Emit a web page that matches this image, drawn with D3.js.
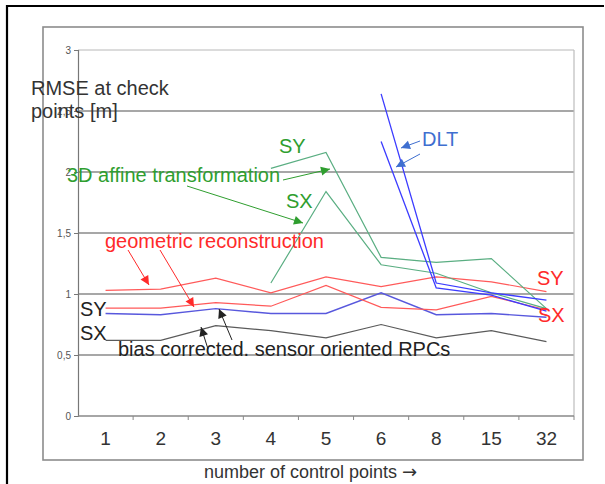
<!DOCTYPE html>
<html><head><meta charset="utf-8">
<script src="https://cdn.jsdelivr.net/npm/d3@7"></script>
<style>
html,body{margin:0;padding:0;background:#fff;}
svg{display:block;font-family:"Liberation Sans",Arial,sans-serif;}
</style></head>
<body><svg id="c" width="605" height="484"></svg>
<script>
const categories = ["1","2","3","4","5","6","8","15","32"];
const yTicks = [0,0.5,1,1.5,2,2.5,3];
const geoSY = [1.03,1.04,1.13,1.01,1.14,1.06,1.14,1.10,1.02];
const geoSX = [0.885,0.885,0.93,0.90,1.07,0.89,0.87,0.98,0.87];
const rpcSY = [0.84,0.83,0.88,0.84,0.84,1.01,0.83,0.84,0.81];
const rpcSX = [0.62,0.62,0.74,0.70,0.64,0.75,0.64,0.70,0.61];
const affSY = [null,null,null,2.03,2.16,1.30,1.26,1.29,0.88];
const affSX = [null,null,null,1.09,1.84,1.24,1.17,1.01,0.88];
const dltSY = [null,null,null,null,null,2.64,1.09,1.01,0.95];
const dltSX = [null,null,null,null,null,2.25,1.05,0.99,0.86];

const svg = d3.select("#c");
const x = d3.scaleBand().domain(categories).range([78,574]).padding(0);
const y = d3.scaleLinear().domain([0,3]).range([416,50]);
const cx = c => x(c) + x.bandwidth()/2;

// outer black border (top & left)
svg.append("path").attr("d","M7,484 L7,6 L604,6").attr("fill","none").attr("stroke","#000").attr("stroke-width",2.2);
// chart frame
svg.append("rect").attr("x",43).attr("y",27).attr("width",540).attr("height",433)
  .attr("fill","none").attr("stroke","#8c8c8c").attr("stroke-width",1.6);

// gridlines
svg.append("g").selectAll("line").data(yTicks.filter(v=>v>0)).join("line")
  .attr("x1",78).attr("x2",574).attr("y1",d=>y(d)).attr("y2",d=>y(d))
  .attr("stroke",d=>d===3?"#b8b8b8":"#8a8a8a").attr("stroke-width",d=>d===3?1:1.6);
// plot right border
svg.append("line").attr("x1",574).attr("x2",574).attr("y1",y(3)).attr("y2",y(0)).attr("stroke","#bdbdbd").attr("stroke-width",1.2);

// y axis
const ya = svg.append("g").attr("transform","translate(78,0)")
  .call(d3.axisLeft(y).tickValues(yTicks).tickSize(4).tickFormat(d=>String(d).replace(".",",")));
ya.select(".domain").attr("stroke","#777").attr("stroke-width",1.2);
ya.selectAll(".tick line").attr("stroke","#777");
ya.selectAll(".tick text").attr("fill","#555").attr("font-size",10).attr("font-family","Liberation Sans, Arial, sans-serif").attr("x",-7);

// x axis
svg.append("line").attr("x1",78).attr("x2",574).attr("y1",416).attr("y2",416).attr("stroke","#888").attr("stroke-width",1.4);
svg.append("g").selectAll("line").data(categories).join("line")
  .attr("x1",d=>x(d)+x.bandwidth()).attr("x2",d=>x(d)+x.bandwidth()).attr("y1",416).attr("y2",420).attr("stroke","#888");
const xa = svg.append("g").attr("transform","translate(0,416)")
  .call(d3.axisBottom(x).tickSize(0).tickPadding(0));
xa.select(".domain").remove();
xa.selectAll(".tick text").attr("font-size",19).attr("fill","#333").attr("dy",0).attr("y",29)
  .attr("font-family","Liberation Sans, Arial, sans-serif");

// series lines
const line = d3.line().defined(d=>d.v!=null).x(d=>cx(d.c)).y(d=>y(d.v));
function series(vals,color,w){
  svg.append("path").datum(categories.map((c,i)=>({c,v:vals[i]})))
    .attr("d",line).attr("fill","none").attr("stroke",color).attr("stroke-width",w||1.2);
}
series(rpcSX,"#5a5a5a");
series(rpcSY,"#5858dd",1.4);
series(geoSX,"#ff5a5a");
series(geoSY,"#ff5a5a");
series(affSY,"#5aae82");
series(affSX,"#5aae82");
series(dltSY,"#3c3cff",1.3);
series(dltSX,"#3c3cff",1.3);

// annotations
function txt(s,xx,yy,color,size){
  return svg.append("text").attr("x",xx).attr("y",yy).attr("fill",color).attr("font-size",size||20).text(s);
}
function arrow(x1,y1,x2,y2,color){
  svg.append("line").attr("x1",x1).attr("y1",y1).attr("x2",x2).attr("y2",y2).attr("stroke",color).attr("stroke-width",1);
  const a = Math.atan2(y2-y1,x2-x1), L=9, W=4.5;
  const bx = x2-L*Math.cos(a), by = y2-L*Math.sin(a);
  const p = [[x2,y2],[bx+W*Math.sin(a),by-W*Math.cos(a)],[bx-W*Math.sin(a),by+W*Math.cos(a)]];
  svg.append("path").attr("d","M"+p.map(q=>q.join(",")).join("L")+"Z").attr("fill",color);
}
txt("RMSE at check",31,95,"#333");
txt("points [m]",31,118,"#333");

txt("3D affine transformation",67,182,"#2f9e2f");
arrow(283,180,330,169,"#2f9e2f");
arrow(187,186,303,223,"#2f9e2f");
txt("SY",279,153,"#2f9e2f");
txt("SX",286,208,"#2f9e2f");

txt("geometric reconstruction",105,248,"#ff2a2a");
arrow(128,250,149,285,"#ff2a2a");
arrow(160,250,194,307,"#ff2a2a");
txt("SY",537,285,"#ff2a2a");
txt("SX",538,322,"#ff2a2a");

txt("DLT",422,146,"#3f6fd0");
arrow(420,141,401,148,"#3f6fd0");
arrow(420,154,396,167,"#3f6fd0");

txt("SY",80,316,"#222");
txt("SX",80,340,"#222");
txt("bias corrected. sensor oriented RPCs",118,356,"#222");
arrow(208,349,201,327,"#222");
arrow(232,340,219,309,"#222");

const xt = txt("number of control points ",204,478,"#333",18);
xt.append("tspan").attr("font-family","DejaVu Sans").attr("font-size",18).text("\u2192");
</script></body></html>
